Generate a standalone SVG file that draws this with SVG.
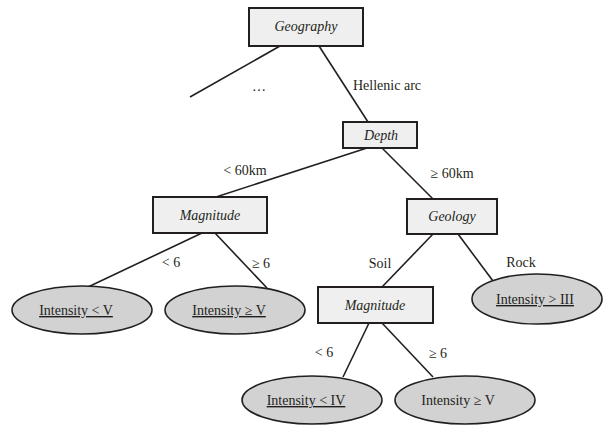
<svg xmlns="http://www.w3.org/2000/svg" width="603" height="425" viewBox="0 0 603 425">
  <style>
    text { font-family: "Liberation Serif", "Times New Roman", serif; font-size: 14px; fill: #231f20; }
    .node rect { fill: #efefef; stroke: #231f20; stroke-width: 2; }
    .node ellipse { fill: #d2d2d2; stroke: #231f20; stroke-width: 1.6; }
    .attr { font-style: italic; text-anchor: middle; }
    .leaf { text-anchor: middle; }
    .u { text-decoration: underline; }
    .lbl { text-anchor: middle; }
    #connectors line { stroke: #231f20; stroke-width: 1.6; }
  </style>
  <rect width="603" height="425" fill="#ffffff"/>

  <g id="connectors">
    <line x1="280" y1="46" x2="190" y2="97"/>
    <line x1="319" y1="46" x2="368" y2="122"/>
    <line x1="367" y1="148" x2="216" y2="197"/>
    <line x1="382" y1="148" x2="433" y2="199"/>
    <line x1="202" y1="233" x2="88" y2="287"/>
    <line x1="215" y1="233" x2="267" y2="288"/>
    <line x1="433" y1="234" x2="382" y2="287"/>
    <line x1="458" y1="234" x2="493" y2="281"/>
    <line x1="369" y1="323" x2="343" y2="377"/>
    <line x1="382" y1="323" x2="433" y2="377"/>
  </g>

  <g id="edge-labels">
    <text class="lbl" x="259" y="91">…</text>
    <text x="353" y="90">Hellenic arc</text>
    <text class="lbl" x="245" y="175">&lt; 60km</text>
    <text class="lbl" x="452" y="178">≥ 60km</text>
    <text class="lbl" x="171" y="267">&lt; 6</text>
    <text class="lbl" x="261" y="268">≥ 6</text>
    <text class="lbl" x="380" y="268">Soil</text>
    <text class="lbl" x="521" y="267">Rock</text>
    <text class="lbl" x="324" y="357">&lt; 6</text>
    <text class="lbl" x="438" y="358">≥ 6</text>
  </g>

  <g id="geography" class="node">
    <rect x="249" y="8" width="114" height="38"/>
    <text class="attr" x="306" y="31">Geography</text>
  </g>
  <g id="depth" class="node">
    <rect x="343" y="122" width="74" height="26"/>
    <text class="attr" x="381" y="140">Depth</text>
  </g>
  <g id="magnitude-shallow" class="node">
    <rect x="153" y="197" width="114" height="36"/>
    <text class="attr" x="210" y="220">Magnitude</text>
  </g>
  <g id="geology" class="node">
    <rect x="407" y="199" width="90" height="35"/>
    <text class="attr" x="452" y="221">Geology</text>
  </g>
  <g id="magnitude-soil" class="node">
    <rect x="318" y="287" width="115" height="36"/>
    <text class="attr" x="375" y="310">Magnitude</text>
  </g>

  <g id="leaf-lt-v" class="node">
    <ellipse cx="82" cy="310" rx="70" ry="24"/>
    <text class="leaf u" x="76" y="315">Intensity &lt; V</text>
  </g>
  <g id="leaf-ge-v" class="node">
    <ellipse cx="235" cy="310" rx="70" ry="24"/>
    <text class="leaf u" x="229" y="315">Intensity ≥ V</text>
  </g>
  <g id="leaf-gt-iii" class="node">
    <ellipse cx="537" cy="299" rx="65" ry="25"/>
    <text class="leaf u" x="535" y="304">Intensity &gt; III</text>
  </g>
  <g id="leaf-lt-iv" class="node">
    <ellipse cx="312" cy="400" rx="70" ry="24"/>
    <text class="leaf u" x="306" y="405">Intensity &lt; IV</text>
  </g>
  <g id="leaf-ge-v-soil" class="node">
    <ellipse cx="465" cy="400" rx="70" ry="24"/>
    <text class="leaf" x="458" y="405">Intensity ≥ V</text>
  </g>
</svg>
